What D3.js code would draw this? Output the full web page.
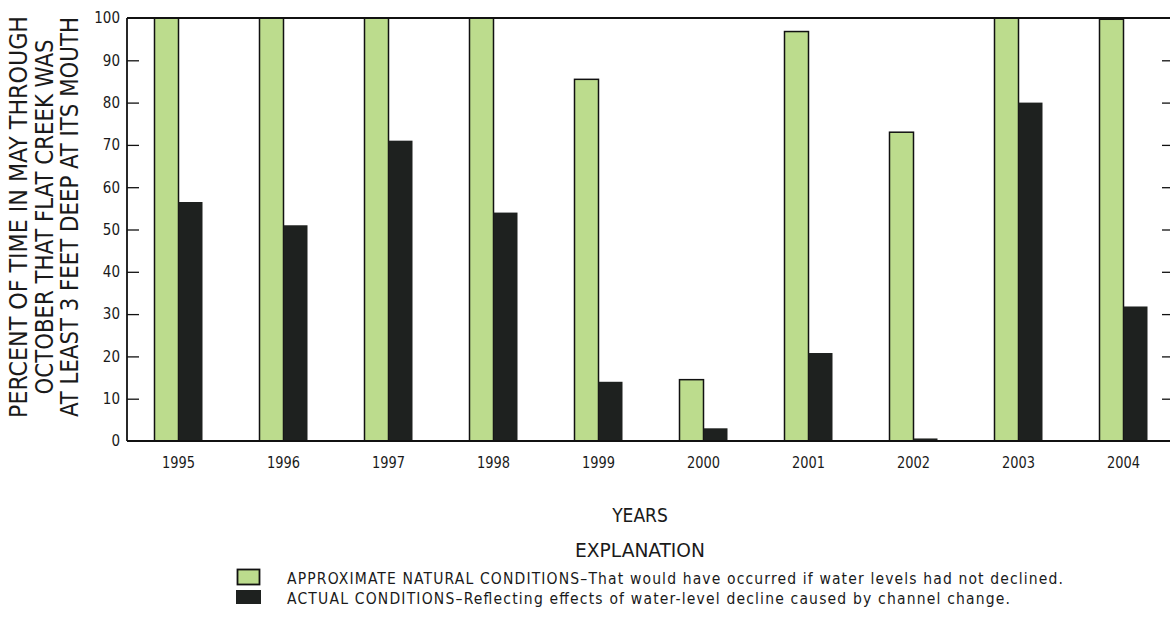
<!DOCTYPE html>
<html>
<head>
<meta charset="utf-8">
<script src="https://cdn.jsdelivr.net/npm/d3@7"></script>
<style>
	body { margin: 0; background: #fff; }
	text { font-family: "Liberation Sans Narrow", "DejaVu Sans Condensed", "Roboto Condensed", sans-serif; fill: #1a1a1a; }
</style>
</head>
<body>
<div id="graph-container"></div>
<script>
// values
const years = ["1995", "1996", "1997", "1998", "1999", "2000", "2001", "2002", "2003", "2004"];
const natural = [100, 100, 100, 100, 85.5, 14.5, 96.8, 73, 100, 99.7];
const actual = [56.5, 51, 71, 54, 14, 3, 20.8, 0.6, 80, 31.8];
const yTicks = [0, 10, 20, 30, 40, 50, 60, 70, 80, 90, 100];
const titleLines = ["PERCENT OF TIME IN MAY THROUGH", "OCTOBER THAT FLAT CREEK WAS", "AT LEAST 3 FEET DEEP AT ITS MOUTH"];
const legendLabels = [
	"APPROXIMATE NATURAL CONDITIONS\u2013That would have occurred if water levels had not declined.",
	"ACTUAL CONDITIONS\u2013Reflecting effects of water-level decline caused by channel change."
];

document.addEventListener("DOMContentLoaded", function () {
	builder();
});

function builder() {
	const w = 1170;
	const h = 618;
	const left = 127, right = 1170, top = 18, bottom = 441;
	const green = "#bcdc8d";
	const dark = "#1e211f";

	const svg = d3.select("#graph-container")
		.append("svg")
		.attr("width", w)
		.attr("height", h);

	const x = d3.scaleBand().domain(years).range([126, 1176]);
	const y = d3.scaleLinear().domain([0, 100]).range([bottom, top]);
	const barW = 24;

	// natural bars (outlined)
	svg.selectAll("rect.nat")
		.data(years)
		.enter()
		.append("rect")
		.attr("class", "nat")
		.attr("x", (d) => x(d) + x.bandwidth() / 2 - barW)
		.attr("y", (d, i) => y(natural[i]))
		.attr("width", barW)
		.attr("height", (d, i) => y(0) - y(natural[i]))
		.attr("fill", green)
		.attr("stroke", "#111")
		.attr("stroke-width", 1.5);

	// actual bars
	svg.selectAll("rect.act")
		.data(years)
		.enter()
		.append("rect")
		.attr("class", "act")
		.attr("x", (d) => x(d) + x.bandwidth() / 2)
		.attr("y", (d, i) => y(actual[i]))
		.attr("width", barW)
		.attr("height", (d, i) => y(0) - y(actual[i]))
		.attr("fill", dark);

	// left axis, ticks pointing inward
	const yAxis = d3.axisLeft(y).tickValues(yTicks).tickSize(-12).tickPadding(7);
	const ga = svg.append("g").attr("transform", `translate(${left},0)`).call(yAxis);
	ga.select(".domain").remove();
	ga.selectAll(".tick line").attr("stroke", "#111").attr("stroke-width", 1.3)
		.filter((d) => d === 0 || d === 100).remove();
	ga.selectAll(".tick text").attr("font-size", 15).attr("fill", "#1a1a1a")
		.style("font-family", "'Liberation Sans Narrow', 'DejaVu Sans Condensed', sans-serif");

	// right ticks, no labels
	const yRight = d3.axisRight(y).tickValues(yTicks.slice(1, -1)).tickSize(-8).tickFormat("");
	const gr = svg.append("g").attr("transform", `translate(${right},0)`).call(yRight);
	gr.select(".domain").remove();
	gr.selectAll(".tick line").attr("stroke", "#111").attr("stroke-width", 1.3);

	// frame
	const frame = svg.append("g").attr("stroke", "#111").attr("stroke-width", 1.8).attr("fill", "none");
	frame.append("line").attr("x1", left).attr("x2", right).attr("y1", top).attr("y2", top);
	frame.append("line").attr("x1", left).attr("x2", right).attr("y1", bottom).attr("y2", bottom);
	frame.append("line").attr("x1", left).attr("x2", left).attr("y1", top).attr("y2", bottom);

	// year labels
	const xAxis = d3.axisBottom(x).tickSize(0).tickPadding(16);
	const gx = svg.append("g").attr("transform", `translate(0,${bottom})`).call(xAxis);
	gx.select(".domain").remove();
	gx.selectAll(".tick text").attr("font-size", 15.5).attr("fill", "#1a1a1a")
		.attr("textLength", 33).attr("lengthAdjust", "spacingAndGlyphs")
		.style("font-family", "'Liberation Sans Narrow', 'DejaVu Sans Condensed', sans-serif");

	// y title
	const titleLen = [402, 355, 400];
	const yt = svg.append("text")
		.attr("transform", "translate(0,217) rotate(-90)")
		.attr("text-anchor", "middle")
		.attr("font-size", 24);
	titleLines.forEach((t, i) => {
		yt.append("tspan").attr("x", 0).attr("y", 27 + i * 25.5)
			.attr("textLength", titleLen[i]).attr("lengthAdjust", "spacingAndGlyphs").text(t);
	});

	svg.append("text").attr("x", 640).attr("y", 522).attr("text-anchor", "middle")
		.attr("font-size", 19).text("YEARS");
	svg.append("text").attr("x", 640).attr("y", 557).attr("text-anchor", "middle")
		.attr("font-size", 20).attr("textLength", 130).attr("lengthAdjust", "spacingAndGlyphs")
		.text("EXPLANATION");

	// legend
	const legendLen = [776, 723];
	const lg = svg.append("g");
	lg.append("rect").attr("x", 237.5).attr("y", 569.5).attr("width", 22).attr("height", 15)
		.attr("fill", green).attr("stroke", "#111").attr("stroke-width", 1.8);
	lg.append("rect").attr("x", 236).attr("y", 590).attr("width", 25).attr("height", 14)
		.attr("fill", dark);
	legendLabels.forEach((t, i) => {
		lg.append("text").attr("x", 287).attr("y", 584 + i * 20).attr("font-size", 15.5)
			.attr("textLength", legendLen[i]).attr("lengthAdjust", "spacing").text(t);
	});
}
</script>
</body>
</html>
